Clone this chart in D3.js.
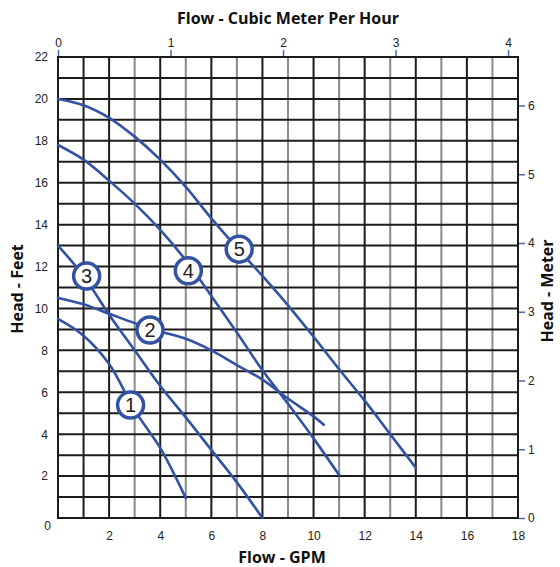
<!DOCTYPE html>
<html>
<head>
<meta charset="utf-8">
<script src="https://cdn.jsdelivr.net/npm/d3@7"></script>
<style>
  html, body { margin: 0; padding: 0; background: #fff; }
  svg { display: block; }
</style>
</head>
<body>
<script>
// ---------- data ----------
const gpmTicks = [2, 4, 6, 8, 10, 12, 14, 16, 18];
const feetTicks = [2, 4, 6, 8, 10, 12, 14, 16, 18, 20, 22];
const m3hTicks = [0, 1, 2, 3, 4];
const meterTicks = [0, 1, 2, 3, 4, 5, 6];

const curve1 = [[0, 9.5], [1, 8.7], [2, 7.35], [3, 5.15], [4, 3.35], [4.5, 2.2], [5, 0.95]];
const curve2 = [[0, 10.5], [1, 10.2], [2, 9.75], [3, 9.3], [4, 8.9], [5, 8.55], [6, 8.0], [7, 7.3], [8, 6.6], [9, 5.7], [10, 4.85], [10.4, 4.45]];
const curve3 = [[0, 13], [1, 11.55], [2, 9.7], [3, 8.0], [4, 6.3], [5, 4.8], [6, 3.25], [7, 1.7], [8, 0]];
const curve4 = [[0, 17.8], [1, 17.1], [2, 16.1], [3, 15.0], [4, 13.75], [5, 12.3], [6, 10.6], [7, 8.85], [8, 7.05], [9, 5.45], [10, 3.8], [11, 2.05]];
const curve5 = [[0, 20], [1, 19.7], [2, 19.1], [3, 18.2], [4, 17.1], [5, 15.8], [6, 14.3], [7, 12.9], [8, 11.55], [9, 10.15], [10, 8.65], [11, 7.1], [12, 5.6], [13, 4.0], [14, 2.4]];
const curves = [curve1, curve2, curve3, curve4, curve5];

const curveLabels = ["1", "2", "3", "4", "5"];
const labelAt = [[2.84, 5.39], [3.6, 8.97], [1.12, 11.55], [5.1, 11.8], [7.09, 12.83]];

const GPM_PER_M3H = 4.40287;
const FT_PER_M = 3.28084;

// ---------- layout ----------
const W = 560, H = 567;
const L = 58, R = 518, T = 57, B = 518;
const blue = "#3452a4";
const tickBlue = "#4a68b8";

const svg = d3.select("body").append("svg").attr("width", W).attr("height", H);

const x = d3.scaleLinear().domain([0, 18]).range([L, R]);
const y = d3.scaleLinear().domain([0, 22]).range([B, T]);
const xTop = d3.scaleLinear().domain([0, 18 / GPM_PER_M3H]).range([L, R]);
const yRight = d3.scaleLinear().domain([0, 22 / FT_PER_M]).range([B, T]);

// grid
const grid = svg.append("g");
d3.range(0, 19).forEach(v => {
  const dark = (v % 2 === 0) || v === 1;
  grid.append("line")
    .attr("x1", x(v)).attr("x2", x(v)).attr("y1", y(0)).attr("y2", y(22))
    .attr("stroke", dark ? "#1c1c1c" : "#8a8a8a").attr("stroke-width", 2);
});
d3.range(0, 23).forEach(v => {
  grid.append("line")
    .attr("x1", x(0) - 1).attr("x2", x(18) + 1).attr("y1", y(v)).attr("y2", y(v))
    .attr("stroke", "#1c1c1c").attr("stroke-width", 2);
});

const tickFont = "'Liberation Sans', Arial, sans-serif";

// bottom axis (GPM)
const bottomAxis = svg.append("g").attr("transform", `translate(0,${B})`)
  .call(d3.axisBottom(x).tickValues(gpmTicks).tickSize(0).tickPadding(13));
bottomAxis.select(".domain").remove();
bottomAxis.selectAll("text").attr("font-family", tickFont).attr("font-size", 12).attr("fill", "#222");

// left axis (feet)
const leftAxis = svg.append("g").attr("transform", `translate(${L},0)`)
  .call(d3.axisLeft(y).tickValues(feetTicks).tickSize(0).tickPadding(10));
leftAxis.select(".domain").remove();
leftAxis.selectAll("text").attr("font-family", tickFont).attr("font-size", 12).attr("fill", "#222");
// corner zero
svg.append("text").attr("x", x(0) - 7).attr("y", y(0) + 12)
  .attr("text-anchor", "end").attr("font-family", tickFont).attr("font-size", 12).attr("fill", "#222").text("0");

// top axis (m3/h)
const topAxis = svg.append("g").attr("transform", `translate(0,${T - 1})`)
  .call(d3.axisTop(xTop).tickValues(m3hTicks).tickSize(6).tickPadding(3).tickFormat(d3.format("d")));
topAxis.select(".domain").remove();
topAxis.selectAll("line").attr("stroke", tickBlue).attr("stroke-width", 1.5);
topAxis.selectAll("text").attr("font-family", tickFont).attr("font-size", 12).attr("fill", "#222");

// right axis (meter)
const rightAxis = svg.append("g").attr("transform", `translate(${R + 1},0)`)
  .call(d3.axisRight(yRight).tickValues(meterTicks).tickSize(6).tickPadding(3).tickFormat(d3.format("d")));
rightAxis.select(".domain").remove();
rightAxis.selectAll("line").attr("stroke", tickBlue).attr("stroke-width", 1.5);
rightAxis.selectAll("text").attr("font-family", tickFont).attr("font-size", 12).attr("fill", "#222");

// curves
const line = d3.line().x(d => x(d[0])).y(d => y(d[1])).curve(d3.curveCatmullRom.alpha(0.5));
svg.append("g").selectAll("path").data(curves).join("path")
  .attr("d", line).attr("fill", "none").attr("stroke", blue)
  .attr("stroke-width", 2.6).attr("stroke-linecap", "round");

// curve labels
const lab = svg.append("g").selectAll("g").data(labelAt).join("g")
  .attr("transform", d => `translate(${x(d[0])},${y(d[1])})`);
lab.append("circle").attr("r", 13).attr("fill", "#fff").attr("stroke", blue).attr("stroke-width", 3.5);
lab.append("text").attr("text-anchor", "middle").attr("dy", "0.36em")
  .attr("font-family", tickFont).attr("font-size", 20).attr("fill", "#222")
  .text((d, i) => curveLabels[i]);

// titles
const titleFont = "'Open Sans', 'DejaVu Sans', sans-serif";
svg.append("text").attr("x", 288).attr("y", 24).attr("text-anchor", "middle")
  .attr("font-family", titleFont).attr("font-weight", "bold").attr("font-size", 16).attr("fill", "#111")
  .text("Flow - Cubic Meter Per Hour");
svg.append("text").attr("x", 282).attr("y", 563).attr("text-anchor", "middle")
  .attr("font-family", titleFont).attr("font-weight", "bold").attr("font-size", 16).attr("fill", "#111")
  .text("Flow - GPM");
svg.append("text").attr("transform", "translate(23,289) rotate(-90)").attr("text-anchor", "middle")
  .attr("font-family", titleFont).attr("font-weight", "bold").attr("font-size", 16).attr("fill", "#111")
  .text("Head - Feet");
svg.append("text").attr("transform", "translate(553,291) rotate(-90)").attr("text-anchor", "middle")
  .attr("font-family", titleFont).attr("font-weight", "bold").attr("font-size", 16).attr("fill", "#111")
  .text("Head - Meter");
</script>
</body>
</html>
